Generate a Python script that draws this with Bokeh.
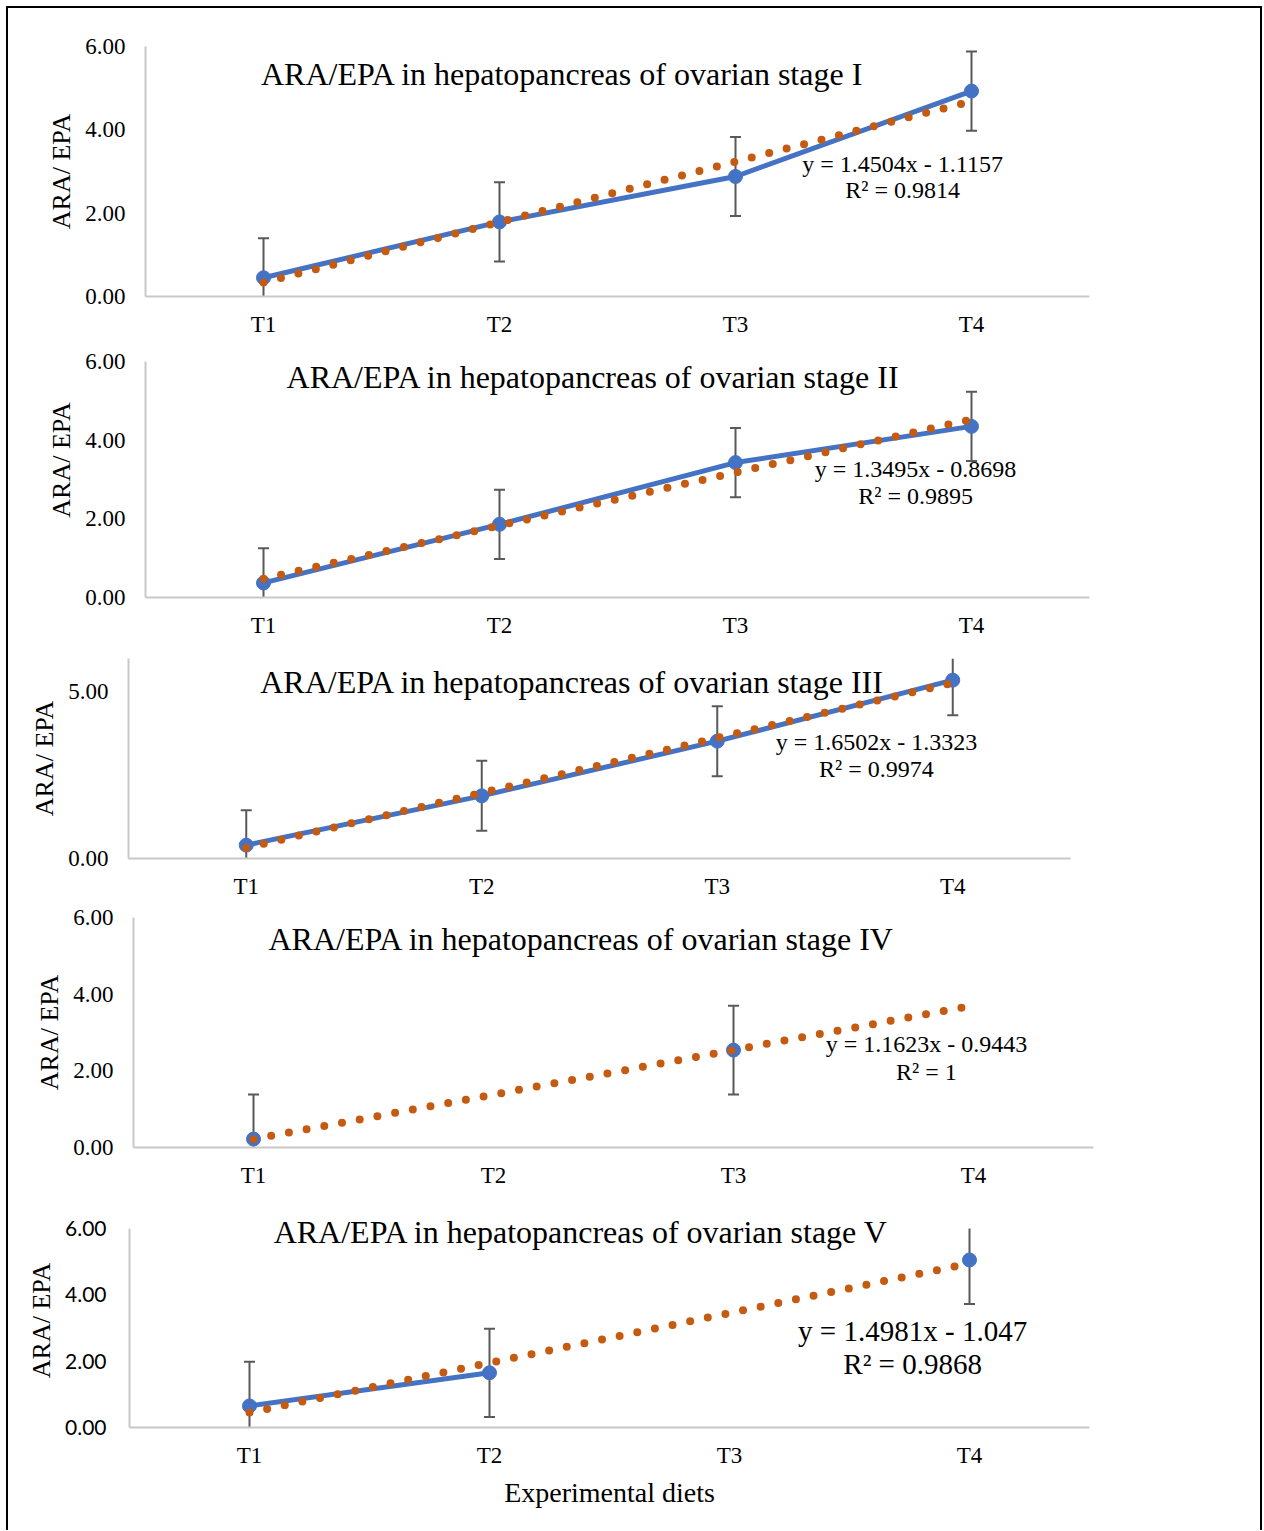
import math
from bokeh.plotting import figure
from bokeh.models import Range1d, FixedTicker, PrintfTickFormatter, Label, ColumnDataSource
from bokeh.layouts import column, row
from bokeh.embed import file_html
from bokeh.resources import INLINE

nan = float("nan")

# ---------------- data ----------------
categories = ["T1", "T2", "T3", "T4"]
x_pos = [1, 2, 3, 4]
stage_labels = ["I", "II", "III", "IV", "V"]

stage1 = [0.45, 1.79, 2.88, 4.93]
stage1_err = [0.95, 0.95, 0.95, 0.95]
stage2 = [0.37, 1.86, 3.43, 4.35]
stage2_err = [0.88, 0.88, 0.88, 0.88]
stage3 = [0.40, 1.88, 3.52, 5.35]
stage3_err = [1.05, 1.05, 1.05, 1.05]
stage4 = [0.22, nan, 2.54, nan]
stage4_err = [1.16, nan, 1.16, nan]
stage5 = [0.65, 1.65, nan, 5.05]
stage5_err = [1.33, 1.33, nan, 1.33]

trend_slope = [1.4504, 1.3495, 1.6502, 1.1623, 1.4981]
trend_intercept = [-1.1157, -0.8698, -1.3323, -0.9443, -1.047]
trend_eq = ["y = 1.4504x - 1.1157", "y = 1.3495x - 0.8698", "y = 1.6502x - 1.3323",
            "y = 1.1623x - 0.9443", "y = 1.4981x - 1.047"]
trend_r2 = ["R² = 0.9814", "R² = 0.9895", "R² = 0.9974", "R² = 1", "R² = 0.9868"]

y_ticks = [[0, 2, 4, 6], [0, 2, 4, 6], [0, 5], [0, 2, 4, 6], [0, 2, 4, 6]]
axis_max = [6, 6, 6, 6, 6]
y_title = "ARA/ EPA"
x_title = "Experimental diets"

series = [stage1, stage2, stage3, stage4, stage5]
errors = [stage1_err, stage2_err, stage3_err, stage4_err, stage5_err]

# ---------------- layout / style ----------------
BLUE = "#4472C4"
ORANGE = "#C55A11"
ERRC = "#595959"
AXC = "#C8C8C8"
SERIF = "Liberation Serif"

# (left border, frame width, right border, top border, frame height, bottom border, view max)
geom = [
    (137, 944, 171, 38, 250, 44, 6.0),
    (137, 944, 171, 21, 236, 43, 6.0),
    (120, 942, 190, 18, 200, 42, 6.0),
    (125, 960, 167, 16, 230, 44, 6.0),
    (121, 960, 171, 22, 214, 103, 6.45),
]
# (title x, title y, eq x, eq y, r2 y, eq font size) in data units
ann = [
    (2.267, 5.33, 3.708, 3.19, 2.56, "24px"),
    (2.398, 5.60, 3.763, 3.26, 2.57, "24px"),
    (2.385, 5.29, 3.676, 3.51, 2.70, "24px"),
    (2.367, 5.45, 3.804, 2.71, 1.98, "24px"),
    (2.383, 5.90, 3.763, 2.90, 1.90, "29px"),
]
# leading padding of the vertical axis title (panel II title sits higher in the source)
ylabel_pad = [0, 6, 0, 0, 0]

figs = []
for i in range(5):
    lb, fw, rb, tb, fh, bb, vmax = geom[i]
    p = figure(frame_width=fw, frame_height=fh, min_border_left=lb, min_border_right=rb,
               min_border_top=tb, min_border_bottom=bb,
               x_range=Range1d(0.5, 4.5), y_range=Range1d(0, vmax),
               output_backend="svg", toolbar_location=None)
    p.outline_line_color = None
    p.xgrid.visible = False
    p.ygrid.visible = False
    p.background_fill_color = "white"
    p.border_fill_color = "white"

    # axes
    p.xaxis.ticker = FixedTicker(ticks=x_pos)
    p.xaxis.major_label_overrides = {x: c for x, c in zip(x_pos, categories)}
    p.xaxis.major_tick_line_color = None
    p.xaxis.minor_tick_line_color = None
    p.xaxis.major_tick_out = 0
    p.xaxis.major_tick_in = 0
    p.xaxis.axis_line_color = AXC
    p.xaxis.axis_line_width = 2
    p.xaxis.major_label_text_font = SERIF
    p.xaxis.major_label_text_font_size = "23px"
    p.xaxis.major_label_text_color = "black"
    p.xaxis.major_label_standoff = 15

    p.yaxis.ticker = FixedTicker(ticks=y_ticks[i])
    p.yaxis.formatter = PrintfTickFormatter(format="%.2f")
    p.yaxis.bounds = (0, axis_max[i])
    p.yaxis.major_tick_line_color = None
    p.yaxis.minor_tick_line_color = None
    p.yaxis.major_tick_out = 0
    p.yaxis.major_tick_in = 0
    p.yaxis.axis_line_color = AXC
    p.yaxis.axis_line_width = 2
    p.yaxis.major_label_text_font = "Lato" if i == 4 else SERIF
    p.yaxis.major_label_text_font_size = "21px" if i == 4 else "23px"
    p.yaxis.major_label_text_color = "black"
    p.yaxis.major_label_standoff = 23 if i == 4 else 20
    p.yaxis.axis_label = "\u00a0" * ylabel_pad[i] + y_title
    p.yaxis.axis_label_text_font = SERIF
    p.yaxis.axis_label_text_font_style = "normal"
    p.yaxis.axis_label_text_font_size = "26px"
    p.yaxis.axis_label_text_color = "black"
    p.yaxis.axis_label_standoff = 6
    if i == 4:
        p.xaxis.axis_label = x_title
        p.xaxis.axis_label_text_font = SERIF
        p.xaxis.axis_label_text_font_style = "normal"
        p.xaxis.axis_label_text_font_size = "28px"
        p.xaxis.axis_label_text_color = "black"
        p.xaxis.axis_label_standoff = 6

    ys = series[i]
    es = errors[i]
    amax = axis_max[i]
    lo = [y - e for y, e in zip(ys, es)]
    hi = [y + e for y, e in zip(ys, es)]
    # error bars are cut at the axis limits (as in the source chart)
    lo_c = [max(v, 0) if v == v else nan for v in lo]
    hi_c = [min(v, amax) if v == v else nan for v in hi]
    lo_cap = [v if (v == v and v >= 0) else nan for v in lo]
    hi_cap = [v if (v == v and v <= amax) else nan for v in hi]
    src = ColumnDataSource(dict(x=x_pos, y=ys, lo=lo_c, hi=hi_c, locap=lo_cap, hicap=hi_cap))

    # error bars
    p.segment(x0="x", y0="lo", x1="x", y1="hi", source=src, line_color=ERRC, line_width=2)
    p.scatter(x="x", y="hicap", source=src, marker="dash", size=11, line_color=ERRC, line_width=2)
    p.scatter(x="x", y="locap", source=src, marker="dash", size=11, line_color=ERRC, line_width=2)

    # data series
    p.line(x="x", y="y", source=src, line_color=BLUE, line_width=5)
    p.scatter(x="x", y="y", source=src, size=14, fill_color=BLUE, line_color=BLUE)

    # linear trend line
    tx = [x_pos[0], x_pos[-1]]
    ty = [trend_slope[i] * t + trend_intercept[i] for t in tx]
    p.line(x=tx, y=ty, line_color=ORANGE, line_width=8, line_dash="0 18", line_cap="round")

    tx_, ty_, ex, ey, ry, efs = ann[i]
    p.add_layout(Label(x=tx_, y=ty_, text="ARA/EPA in hepatopancreas of ovarian stage " + stage_labels[i],
                       text_font=SERIF, text_font_size="32px", text_color="black",
                       text_align="center", text_baseline="middle"))
    p.add_layout(Label(x=ex, y=ey, text=trend_eq[i], text_font=SERIF, text_font_size=efs,
                       text_color="black", text_align="center", text_baseline="middle"))
    p.add_layout(Label(x=ex, y=ry, text=trend_r2[i], text_font=SERIF, text_font_size=efs,
                       text_color="black", text_align="center", text_baseline="middle"))
    figs.append(p)

layout = column(*[row(f) for f in figs], spacing=0,
                styles={"border-left": "2px solid black", "border-right": "2px solid black",
                        "border-top": "2px solid black", "margin-left": "6px", "margin-top": "6px"})

open("out.html", "w").write(file_html(layout, INLINE))
